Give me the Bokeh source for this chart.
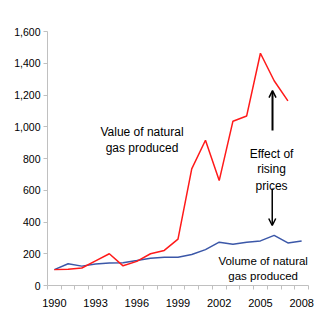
from bokeh.plotting import figure
from bokeh.models import (Range1d, FixedTicker, NumeralTickFormatter, Label, Arrow, OpenHead,
                          ColumnDataSource)
from bokeh.embed import file_html
from bokeh.resources import INLINE

years = list(range(1990, 2009))
value_years = list(range(1990, 2008))
value_produced = [100, 103, 110, 155, 200, 124, 152, 200, 221, 292, 735, 915, 661, 1035, 1068, 1463, 1290, 1163]
volume_produced = [100, 137, 122, 135, 142, 143, 157, 172, 178, 178, 195, 226, 273, 260, 273, 281, 316, 268, 281]
x_label_years = [1990, 1993, 1996, 1999, 2002, 2005, 2008]
y_ticks = [0, 200, 400, 600, 800, 1000, 1200, 1400, 1600]

FONT = "Liberation Sans"

p = figure(width=328, height=323, output_backend="svg", toolbar_location=None,
           x_range=Range1d(1989.5, 2008.5), y_range=Range1d(0, 1600),
           min_border_left=47, min_border_right=20, min_border_top=31, min_border_bottom=38)
p.outline_line_color = None
p.xgrid.visible = False
p.ygrid.visible = False
p.background_fill_color = "white"
p.border_fill_color = "white"

# x axis: tick marks between categories, labels every 3 years
p.xaxis.ticker = FixedTicker(ticks=x_label_years, minor_ticks=[y - 0.5 for y in years] + [2008.5])
p.xaxis.major_label_overrides = {y: str(y) for y in x_label_years}
p.xaxis.major_tick_out = 0
p.xaxis.major_tick_in = 0
p.xaxis.minor_tick_out = 4
p.xaxis.minor_tick_in = 0
p.xaxis.major_label_standoff = 9
p.xaxis.major_label_text_font = FONT
p.xaxis.major_label_text_font_size = "11px"
p.xaxis.major_label_text_color = "#000000"
p.xaxis.axis_line_color = "#c0c0c0"
p.xaxis.minor_tick_line_color = "#c0c0c0"

p.yaxis.ticker = FixedTicker(ticks=y_ticks)
p.yaxis.formatter = NumeralTickFormatter(format="0,0")
p.yaxis.major_tick_out = 4
p.yaxis.major_tick_in = 0
p.yaxis.minor_tick_out = 0
p.yaxis.minor_tick_in = 0
p.yaxis.major_label_standoff = 3
p.yaxis.major_label_text_font = FONT
p.yaxis.major_label_text_font_size = "10.5px"
p.yaxis.major_label_text_color = "#000000"
p.yaxis.axis_line_color = "#c0c0c0"
p.yaxis.major_tick_line_color = "#c0c0c0"

src_val = ColumnDataSource(dict(x=value_years, y=value_produced))
src_vol = ColumnDataSource(dict(x=years, y=volume_produced))
p.line("x", "y", source=src_vol, line_color="#3b57a8", line_width=1.5)
p.line("x", "y", source=src_val, line_color="#ff1a1a", line_width=1.5)

def lab(x, y, text, align="center", style="normal", size="12px"):
    p.add_layout(Label(x=x, y=y, text=text, text_align=align, text_baseline="alphabetic",
                       text_font=FONT, text_font_size=size, text_font_style=style,
                       text_color="#000000"))

lab(1991.76, 1657, "Index (1990=100)", align="left", style="italic", size="11.5px")
lab(1996.38, 964, "Value of natural")
lab(1996.38, 863, "gas produced")
lab(2005.81, 831, "Effect of")
lab(2005.81, 731, "rising")
lab(2005.81, 624, "prices")
lab(2005.2, 157, "Volume of natural", size="11.5px")
lab(2005.2, 57, "gas produced", size="11.5px")

p.add_layout(Arrow(end=OpenHead(size=7, line_width=1.5, line_color="#000000"),
                   x_start=2005.88, y_start=976, x_end=2005.88, y_end=1228,
                   line_width=2, line_color="#000000"))
p.add_layout(Arrow(end=OpenHead(size=7, line_width=1.5, line_color="#000000"),
                   x_start=2005.86, y_start=611, x_end=2005.86, y_end=378,
                   line_width=1.5, line_color="#000000"))

open("out.html", "w").write(file_html(p, INLINE))
